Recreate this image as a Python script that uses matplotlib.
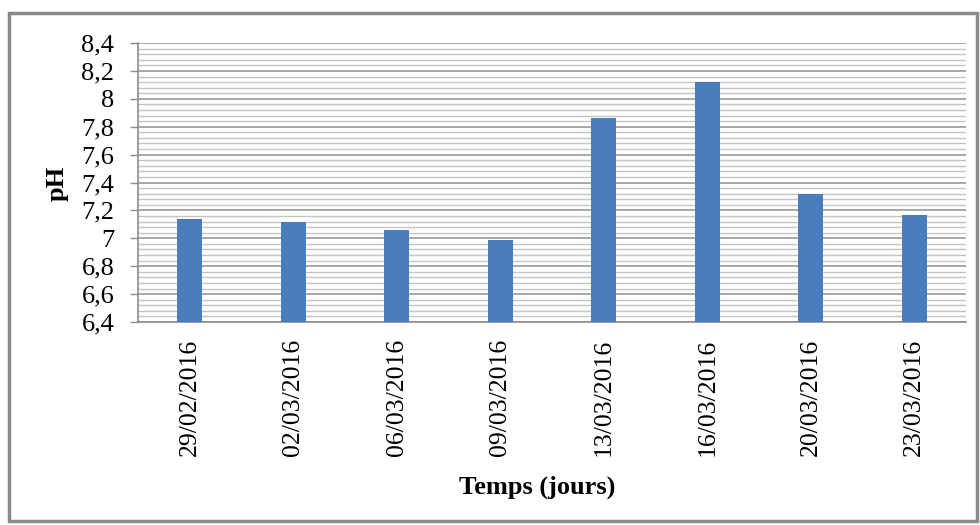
import matplotlib.pyplot as plt
from matplotlib.patches import Rectangle
from matplotlib.ticker import MultipleLocator, FuncFormatter

dates = ['29/02/2016', '02/03/2016', '06/03/2016', '09/03/2016',
         '13/03/2016', '16/03/2016', '20/03/2016', '23/03/2016']
ph = [7.14, 7.12, 7.06, 6.99, 7.86, 8.12, 7.32, 7.17]

plt.rcParams['font.family'] = ['Liberation Serif', 'DejaVu Serif']

fig = plt.figure(figsize=(9.8, 5.25), dpi=100)
ax = fig.add_axes([0.1408, 0.3867, 0.8449, 0.5313])

x = range(len(dates))
ax.bar(x, ph, width=0.24, color='#4a7ebb', zorder=3, bottom=0)

ax.set_ylim(6.4, 8.4)
ax.set_xlim(-0.5, len(dates) - 0.5)
ax.yaxis.set_major_locator(MultipleLocator(0.2))
ax.yaxis.set_minor_locator(MultipleLocator(0.04))
ax.yaxis.set_major_formatter(FuncFormatter(lambda v, p: f"{v:.1f}".rstrip('0').rstrip('.').replace('.', ',')))
ax.grid(axis='y', which='major', color='#9a9a9a', lw=1.2, zorder=0)
ax.grid(axis='y', which='minor', color='#c4c4c4', lw=1.0, zorder=0)

ax.set_xticks(list(x))
ax.set_xticklabels(dates, rotation=90, va='top', ha='center')
ax.tick_params(axis='x', length=0, pad=12, labelsize=18.5)
ax.tick_params(axis='y', which='major', length=6, width=1, color='#8c8c8c', pad=11, labelsize=19)
ax.tick_params(axis='y', which='minor', length=0)

for s in ['top', 'right']:
    ax.spines[s].set_visible(False)
for s in ['left', 'bottom']:
    ax.spines[s].set_color('#8c8c8c')
    ax.spines[s].set_linewidth(1.2)

fig.text(57 / 980, 1 - 183 / 525, 'pH', rotation=90, ha='center', va='center',
         fontsize=19, fontweight='bold')
fig.text(537 / 980, 1 - 487 / 525, 'Temps (jours)', ha='center', va='center',
         fontsize=19, fontweight='bold')

# outer chart frame
frame = Rectangle((9 / 980, 4 / 525), 968 / 980, 508 / 525, transform=fig.transFigure,
                  fill=False, edgecolor='#8a8a8a', lw=2.5)
fig.patches.append(frame)

fig.savefig('out.png', dpi=100)
